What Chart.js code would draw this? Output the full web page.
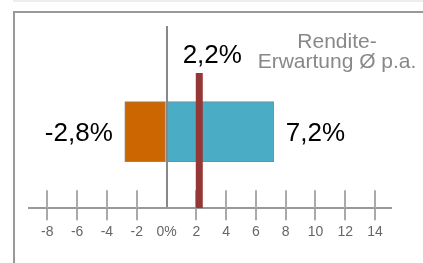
<!DOCTYPE html>
<html>
<head>
<meta charset="utf-8">
<script src="https://cdn.jsdelivr.net/npm/chart.js@4"></script>
<style>
    html, body { margin: 0; padding: 0; background: #fff; }
    #wrap { position: relative; width: 423px; height: 263px; overflow: hidden; }
    #strip { position: absolute; left: 13px; top: 0; width: 410px; height: 2px; background: #eee; }
    #frame { position: absolute; left: 13px; top: 11px; width: 410px; height: 252px;
             border-left: 2px solid #999; border-top: 2px solid #999; }
    canvas { position: absolute; left: 0; top: 0; }
</style>
</head>
<body>
<div id="wrap">
    <div id="strip"></div>
    <div id="frame"></div>
    <canvas id="return-chart" width="423" height="263"></canvas>
</div>
<script>
// axis ticks (in %)
const tickValues = [-8, -6, -4, -2, 0, 2, 4, 6, 8, 10, 12, 14];
// range of return: worst case, best case
const rangeValues = [-2.8, 7.2];
// expected average return p.a.
const averageReturn = [2.2];
const captionLines = ["Rendite-", "Erwartung Ø p.a."];

// vertical placement on the hidden y scale (0..100)
const barRow = 42;
const markerTop = 74.2;

const fontFamily = "'Liberation Sans', Arial, sans-serif";
const fmt = v => v.toFixed(1).replace('.', ',') + '%';

// labels, caption and upper halves of the tick marks
const labelPlugin = {
    id: 'labels',
    beforeDatasetsDraw(chart) {
        const {ctx, chartArea, scales: {x}} = chart;
        ctx.save();
        ctx.strokeStyle = '#aaa';
        ctx.lineWidth = 2;
        x.ticks.forEach(t => {
            if (t.value === 0) return;
            const px = Math.round(x.getPixelForValue(t.value));
            ctx.beginPath();
            ctx.moveTo(px, chartArea.bottom - 18);
            ctx.lineTo(px, chartArea.bottom);
            ctx.stroke();
        });
        ctx.restore();
    },
    afterDatasetsDraw(chart) {
        const {ctx, scales: {x, y}} = chart;
        const rowY = y.getPixelForValue(barRow);
        ctx.save();
        ctx.fillStyle = '#000';
        ctx.font = '26px ' + fontFamily;
        ctx.textBaseline = 'alphabetic';
        ctx.textAlign = 'right';
        ctx.fillText(fmt(rangeValues[0]), x.getPixelForValue(rangeValues[0]) - 12, rowY + 9.5);
        ctx.textAlign = 'left';
        ctx.fillText(fmt(rangeValues[1]), x.getPixelForValue(rangeValues[1]) + 12, rowY + 9.5);
        ctx.textAlign = 'center';
        ctx.fillText(fmt(averageReturn[0]), x.getPixelForValue(averageReturn[0]) + 13, y.getPixelForValue(markerTop) - 10);

        // caption top right
        ctx.fillStyle = '#888';
        ctx.font = '21px ' + fontFamily;
        captionLines.forEach((line, i) => {
            ctx.fillText(line, 337, 48 + i * 19.5);
        });
        ctx.restore();
    }
};

const returnCanvas = document.getElementById("return-chart");

let returnChart = new Chart(returnCanvas, {
    type: 'bar',
    data: {
        datasets: [{
            type: 'line',
            data: [{x: averageReturn[0], y: 0}, {x: averageReturn[0], y: markerTop}],
            borderColor: '#953735',
            borderWidth: 7,
            borderCapStyle: 'butt',
            pointRadius: 0,
            order: 0
        }, {
            data: [
                {y: barRow, x: [rangeValues[0], 0]},
                {y: barRow, x: [0, rangeValues[1]]}
            ],
            backgroundColor: ['#CC6600', '#4BACC6'],
            borderColor: '#888',
            borderWidth: 1,
            borderSkipped: false,
            barThickness: 60,
            order: 1
        }]
    },
    options: {
        responsive: false,
        animation: false,
        indexAxis: 'y',
        layout: {
            padding: {left: 29, right: 32, top: 26, bottom: 18}
        },
        scales: {
            x: {
                type: 'linear',
                min: -9.23,
                max: 15.07,
                afterBuildTicks: scale => {
                    scale.ticks = tickValues.map(v => ({value: v}));
                },
                ticks: {
                    color: '#666',
                    padding: 4,
                    autoSkip: false,
                    maxRotation: 0,
                    font: {family: fontFamily, size: 14},
                    callback: v => v === 0 ? '0%' : String(v)
                },
                grid: {
                    color: c => c.tick && c.tick.value === 0 ? '#888' : 'transparent',
                    tickColor: c => c.tick && c.tick.value === 0 ? 'transparent' : '#aaa',
                    lineWidth: 2,
                    tickWidth: 2,
                    tickLength: 12
                },
                border: {
                    display: true,
                    color: '#999',
                    width: 2
                }
            },
            y: {
                type: 'linear',
                display: false,
                offset: false,
                grid: {offset: false},
                min: 0,
                max: 100
            }
        },
        plugins: {
            legend: {display: false},
            tooltip: {enabled: false}
        }
    },
    plugins: [labelPlugin]
});
</script>
</body>
</html>
